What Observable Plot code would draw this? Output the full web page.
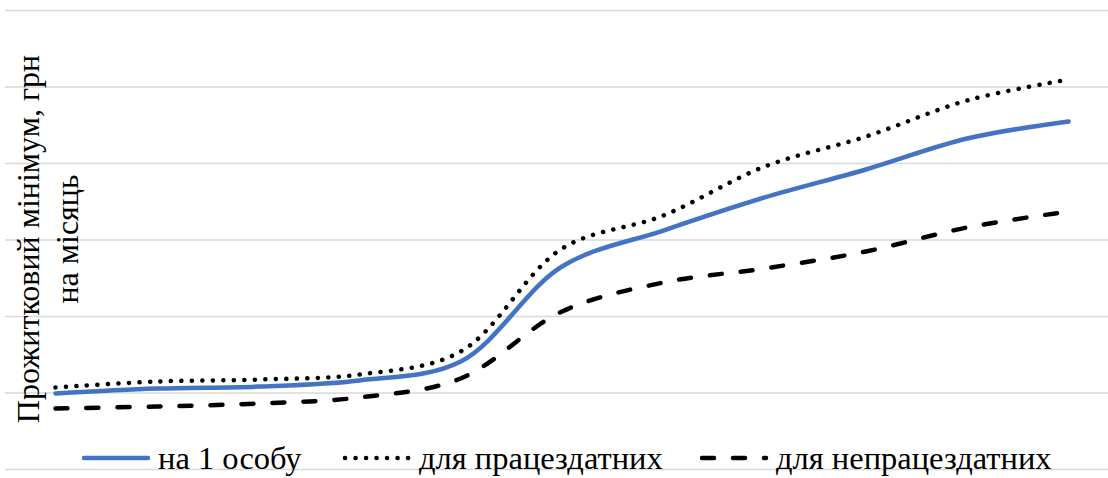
<!DOCTYPE html>
<html>
<head>
<meta charset="utf-8">
<script src="https://cdn.jsdelivr.net/npm/d3@7"></script>
<script src="https://cdn.jsdelivr.net/npm/@observablehq/plot@0.6"></script>
<style>
  body { margin: 0; background: #fff; }
  #wrap { position: relative; width: 1108px; height: 478px; font-family: "Liberation Serif", "DejaVu Serif", serif; }
  #wrap svg.plot { position: absolute; left: 0; top: 0; }
  #ylab { position: absolute; left: 0; top: 0; pointer-events: none; }
  #legend { position: absolute; left: 0; top: 438px; width: 1108px; height: 40px; font-size: 32.5px; color: #000; font-family: "Liberation Serif", "DejaVu Serif", serif; }
  .item { position: absolute; top: 0; display: flex; align-items: center; height: 40px; white-space: nowrap; }
  .item svg { display: block; margin-right: 6px; }
</style>
</head>
<body>
<div id="wrap"></div>
<script>
// Categories (periods, no labels shown on the original axis)
const periods = [1, 2, 3, 4, 5, 6, 7, 8, 9, 10, 11];
// Series values, грн на місяць
const perPerson  = [497, 529, 542, 582, 706, 1327, 1562, 1778, 1961, 2163, 2275];
const ableBodied = [536, 575, 588, 621, 771, 1444, 1660, 1980, 2176, 2412, 2549];
const disabled   = [399, 412, 431, 471, 595, 1033, 1222, 1314, 1425, 1582, 1686];
// Y gridline values
const yTicks = [0, 500, 1000, 1500, 2000, 2500, 3000];
const seriesNames = ["на 1 особу", "для працездатних", "для непрацездатних"];
const yTitle = ["Прожитковий мінімум, грн", "на місяць"];

const toRows = (vals, name) => periods.map((p, i) => ({period: p, value: vals[i], series: name}));
const rows1 = toRows(perPerson, seriesNames[0]);
const rows2 = toRows(ableBodied, seriesNames[1]);
const rows3 = toRows(disabled, seriesNames[2]);

const styles = [
  {stroke: "#4472C4", strokeWidth: 4.5, strokeDasharray: null},
  {stroke: "#000", strokeWidth: 4.5, strokeDasharray: "0.1 10.4"},
  {stroke: "#000", strokeWidth: 4.5, strokeDasharray: "12 19"}
];

const chart = Plot.plot({
  width: 1108,
  height: 478,
  marginLeft: 5,
  marginRight: 0,
  marginTop: 10,
  marginBottom: 9,
  x: {type: "linear", domain: [periods[0], periods[periods.length - 1]], range: [55, 1068], axis: null},
  y: {domain: [0, 3000], axis: null},
  marks: [
    Plot.ruleY(yTicks, {stroke: "#d9d9d9", strokeWidth: 1.5}),
    Plot.line(rows3, {x: "period", y: "value", curve: "catmull-rom", stroke: styles[2].stroke, strokeWidth: styles[2].strokeWidth, strokeLinecap: "round", strokeDasharray: styles[2].strokeDasharray}),
    Plot.line(rows2, {x: "period", y: "value", curve: "catmull-rom", stroke: styles[1].stroke, strokeWidth: styles[1].strokeWidth, strokeLinecap: "round", strokeDasharray: styles[1].strokeDasharray}),
    Plot.line(rows1, {x: "period", y: "value", curve: "catmull-rom", stroke: styles[0].stroke, strokeWidth: styles[0].strokeWidth, strokeLinecap: "round"})
  ]
});
chart.classList.add("plot");
const wrap = document.getElementById("wrap");
wrap.appendChild(chart);

// Y axis title (two rotated lines)
const ns = "http://www.w3.org/2000/svg";
const ylab = document.createElementNS(ns, "svg");
ylab.setAttribute("id", "ylab");
ylab.setAttribute("width", 120);
ylab.setAttribute("height", 478);
const yLinesX = [39, 78];
yTitle.forEach((t, i) => {
  const tx = document.createElementNS(ns, "text");
  tx.setAttribute("transform", `translate(${yLinesX[i]},239) rotate(-90)`);
  tx.setAttribute("text-anchor", "middle");
  tx.style.fontFamily = '"Liberation Serif", "DejaVu Serif", serif';
  tx.style.fontSize = "32px";
  tx.setAttribute("fill", "#000");
  tx.textContent = t;
  ylab.appendChild(tx);
});
wrap.appendChild(ylab);

// Legend
const legend = document.createElement("div");
legend.id = "legend";
const legX = [82, 343, 700];
seriesNames.forEach((name, i) => {
  const it = document.createElement("div");
  it.className = "item";
  it.style.left = legX[i] + "px";
  const s = styles[i];
  const dash = s.strokeDasharray ? `stroke-dasharray="${s.strokeDasharray}"` : "";
  it.innerHTML = `<svg width="70" height="20"><line x1="2" y1="10" x2="66" y2="10" stroke="${s.stroke}" stroke-width="${s.strokeWidth}" stroke-linecap="round" ${dash}/></svg><span>${name}</span>`;
  legend.appendChild(it);
});
wrap.appendChild(legend);
</script>
</body>
</html>
